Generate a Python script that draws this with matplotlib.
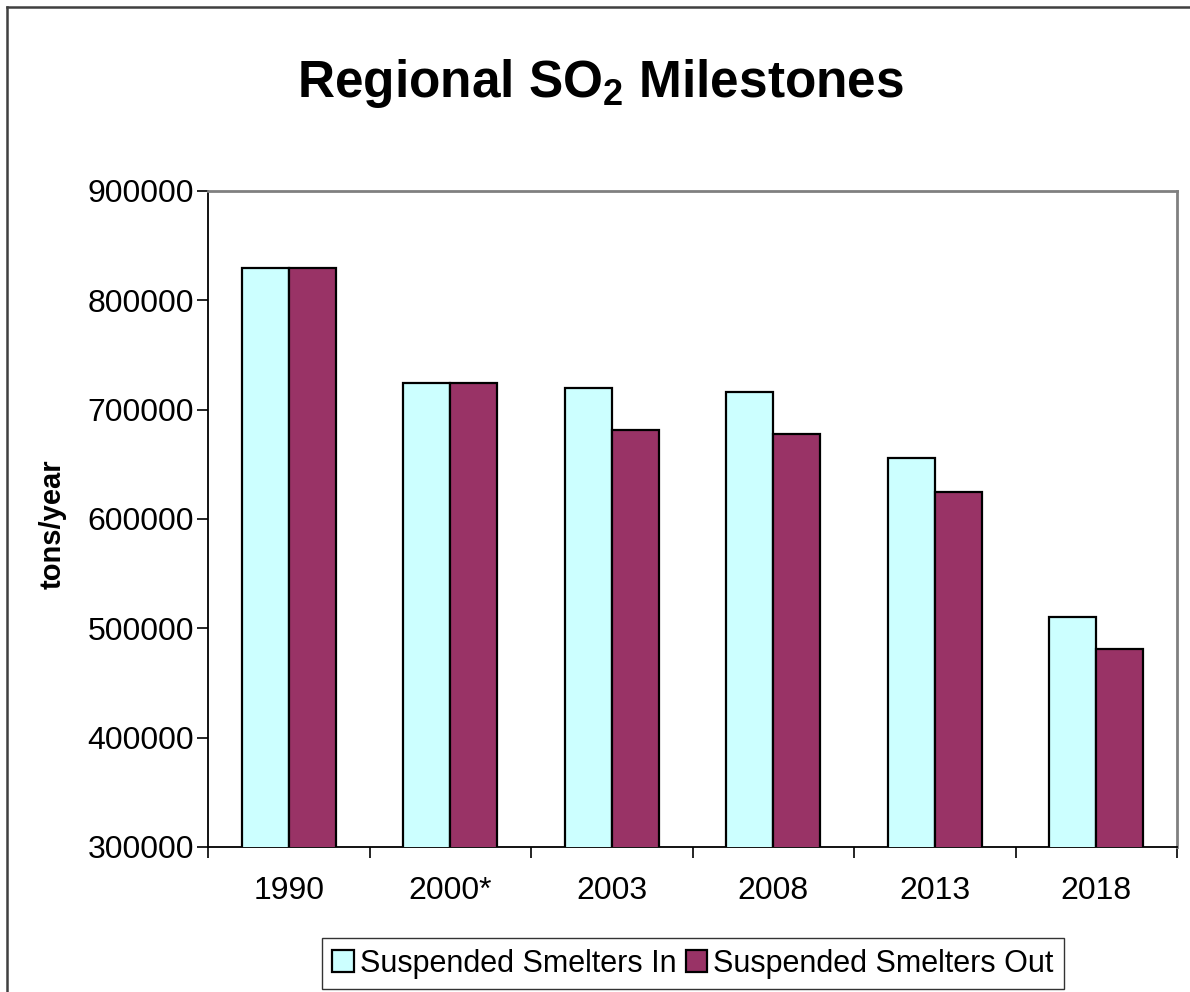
import matplotlib
matplotlib.use("Agg")
import matplotlib.pyplot as plt
import numpy as np
from matplotlib.lines import Line2D

categories = ["1990", "2000*", "2003", "2008", "2013", "2018"]
smelters_in = [830000, 724000, 720000, 716000, 656000, 510000]
smelters_out = [830000, 724000, 681000, 678000, 625000, 481000]
series_labels = ["Suspended Smelters In", "Suspended Smelters Out"]
y_ticks = [300000, 400000, 500000, 600000, 700000, 800000, 900000]

plt.rcParams['font.family'] = ['Liberation Sans', 'DejaVu Sans']
plt.rcParams['mathtext.fontset'] = 'custom'
plt.rcParams['mathtext.rm'] = 'Liberation Sans'
plt.rcParams['mathtext.bf'] = 'Liberation Sans:bold'

fig = plt.figure(figsize=(11.9, 9.92), dpi=100)
W, H = 1190, 992
ax = fig.add_axes([208 / W, 1 - 847 / H, (1177 - 208) / W, (847 - 191) / H])

x = np.arange(len(categories))
bw = 0.29
ax.bar(x - bw / 2, smelters_in, bw, color="#CCFFFF", edgecolor="black",
       linewidth=1.6, label=series_labels[0], zorder=3)
ax.bar(x + bw / 2, smelters_out, bw, color="#993366", edgecolor="black",
       linewidth=1.6, label=series_labels[1], zorder=3)

ax.set_xlim(-0.5, len(categories) - 0.5)
ax.set_ylim(300000, 900000)
ax.set_yticks(y_ticks)
ax.set_yticklabels([str(v) for v in y_ticks], fontsize=23)
ax.set_xticks(x)
ax.set_xticklabels(categories, fontsize=23)
ax.set_xticks(np.arange(-0.5, len(categories), 1.0), minor=True)
ax.tick_params(axis='x', which='major', length=0, pad=21)
ax.tick_params(axis='x', which='minor', length=8, width=1.2, direction='out')
ax.tick_params(axis='y', length=8, width=1.2, direction='out', pad=2)

for s in ['left', 'bottom']:
    ax.spines[s].set_color('black')
    ax.spines[s].set_linewidth(1.3)
for s in ['top', 'right']:
    ax.spines[s].set_color('#808080')
    ax.spines[s].set_linewidth(2.0)

ax.set_ylabel("tons/year", fontsize=21, fontweight='bold')
ax.yaxis.set_label_coords(-0.146, 0.492)

fig.text(601 / W, 1 - 97 / H, r"Regional SO$_\mathbf{2}$ Milestones",
         fontsize=37, fontweight='bold', ha='center', va='baseline')

leg = ax.legend(loc='upper center', bbox_to_anchor=(693 / W, 1 - 938 / H),
                bbox_transform=fig.transFigure, ncol=2, fontsize=22,
                frameon=True, fancybox=False, edgecolor='black',
                handlelength=0.7, handleheight=0.7, handletextpad=0.2,
                columnspacing=0.3, borderpad=0.35, borderaxespad=0)
leg.get_frame().set_linewidth(1.0)

# outer chart border (top and left visible)
fig.add_artist(Line2D([7 / W, 7 / W], [0, 1 - 7 / H], transform=fig.transFigure,
                      color='#404040', linewidth=1.8))
fig.add_artist(Line2D([7 / W, 1], [1 - 7 / H, 1 - 7 / H], transform=fig.transFigure,
                      color='#404040', linewidth=1.8))

fig.savefig("out.png", dpi=100, facecolor='white')
